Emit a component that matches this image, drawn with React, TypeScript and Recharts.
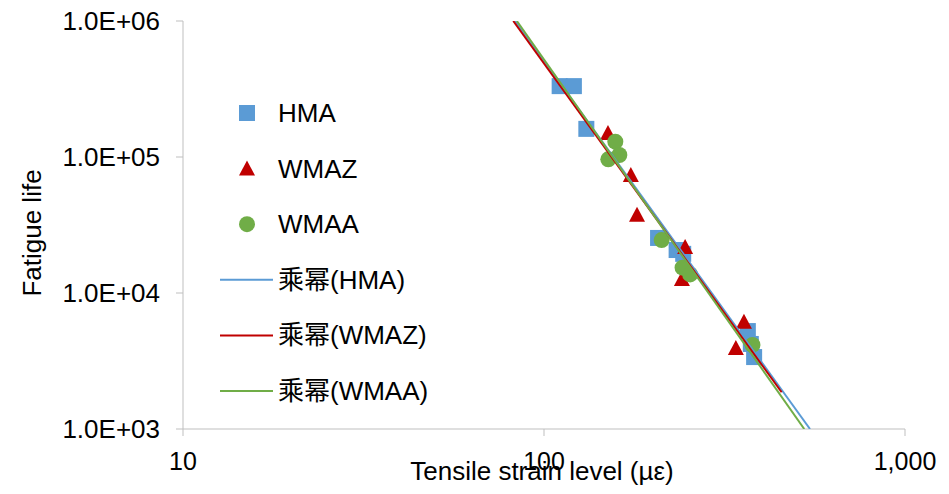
import React from "react"
import { ScatterChart, Scatter, XAxis, YAxis, Legend } from "recharts"

const font = '"Liberation Sans", Arial, "Noto Sans CJK SC", sans-serif'

const blue = "#5B9BD5"
const red = "#C00000"
const green = "#70AD47"
const axisGray = "#BFBFBF"

// measured specimens: tensile strain (µε) vs. cycles to failure
const hmaStrain = [110.5, 121, 131, 207, 233, 243, 367, 374, 382]
const hmaLife = [332000, 332000, 161000, 25400, 20700, 19400, 5250, 4220, 3380]

const wmazStrain = [150.4, 174, 181, 246, 241, 358, 340]
const wmazLife = [150000, 73700, 37600, 21800, 12700, 6150, 3940]

const wmaaStrain = [157.6, 161.7, 150.7, 211.8, 242, 254, 378]
const wmaaLife = [129600, 103400, 96200, 24500, 15350, 13700, 4150]

// power-law trend lines, start and end points
const hmaTrendStrain = [83.1, 545.6]
const hmaTrendLife = [1000000, 1000]
const wmazTrendStrain = [82.2, 455.3]
const wmazTrendLife = [1000000, 1862]
const wmaaTrendStrain = [84.1, 526]
const wmaaTrendLife = [1000000, 1000]

const seriesNames = ["HMA", "WMAZ", "WMAA"]
const trendPrefix = "乘幂"

const xTicks = [10, 100, 1000]
const yTicks = [1000, 10000, 100000, 1000000]

const toPoints = (xs: number[], ys: number[]) => xs.map((x, i) => ({ x, y: ys[i] }))

const SquareMark = ({ cx, cy, fill }: any) => <rect x={cx - 8} y={cy - 8} width={16} height={16} fill={fill} />
const TriangleMark = ({ cx, cy, fill }: any) => (
  <polygon points={`${cx},${cy - 8} ${cx - 8},${cy + 7} ${cx + 8},${cy + 7}`} fill={fill} />
)
const CircleMark = ({ cx, cy, fill }: any) => <circle cx={cx} cy={cy} r={8} fill={fill} />
const NoMark = () => <g />

const yTickFormatter = (v: number) => `1.0E+${String(Math.round(Math.log10(v))).padStart(2, "0")}`
const xTickFormatter = (v: number) => v.toLocaleString("en-US")

const YTitle = ({ viewBox }: any) => {
  const cx = viewBox.x + 32
  const cy = viewBox.y + viewBox.height / 2 + 8
  return (
    <text
      x={cx}
      y={cy}
      transform={`rotate(-90, ${cx}, ${cy})`}
      textAnchor="middle"
      dominantBaseline="central"
      fontSize={26}
      fontFamily={font}
      fill="#000"
    >
      Fatigue life
    </text>
  )
}

const XTitle = ({ viewBox }: any) => (
  <text
    x={viewBox.x + viewBox.width / 2 - 2}
    y={viewBox.y + 51}
    textAnchor="middle"
    fontSize={26}
    fontFamily={font}
    fill="#000"
  >
    Tensile strain level (µε)
  </text>
)

const colors = [blue, red, green]

const renderLegend = () => {
  const rowGap = 55.6
  return (
    <svg width={240} height={330} style={{ overflow: "visible" }}>
      {seriesNames.map((name, i) => {
        const y = 28 + i * rowGap
        const c = colors[i]
        let icon
        if (i === 0) icon = <SquareMark cx={37} cy={y} fill={c} />
        else if (i === 1) icon = <TriangleMark cx={37} cy={y} fill={c} />
        else icon = <CircleMark cx={37} cy={y} fill={c} />
        return (
          <g key={name}>
            {icon}
            <text x={68} y={y} dominantBaseline="central" fontSize={26} fontFamily={font} fill="#000">
              {name}
            </text>
          </g>
        )
      })}
      {seriesNames.map((name, i) => {
        const y = 28 + (i + 3) * rowGap
        return (
          <g key={`t-${name}`}>
            <line x1={10} x2={63} y1={y} y2={y} stroke={colors[i]} strokeWidth={2} />
            <text x={68} y={y} dominantBaseline="central" fontSize={26} fontFamily={font} fill="#000">
              {`${trendPrefix}(${name})`}
            </text>
          </g>
        )
      })}
    </svg>
  )
}

export default function App() {
  return (
    <div style={{ position: "absolute", left: 0, top: 0, background: "#fff" }}>
      <ScatterChart width={949} height={494} margin={{ top: 21, right: 44, bottom: 0, left: 0 }}>
        <XAxis
          type="number"
          dataKey="x"
          scale="log"
          domain={[10, 1000]}
          ticks={xTicks}
          allowDataOverflow
          height={65}
          stroke={axisGray}
          tickSize={7}
          tickMargin={16}
          tick={{ fill: "#000", fontSize: 25, fontFamily: font }}
          tickFormatter={xTickFormatter}
          label={<XTitle />}
        />
        <YAxis
          type="number"
          dataKey="y"
          scale="log"
          domain={[1000, 1000000]}
          ticks={yTicks}
          allowDataOverflow
          width={183}
          stroke={axisGray}
          tickSize={7}
          tickMargin={16}
          tick={{ fill: "#000", fontSize: 26, fontFamily: font }}
          tickFormatter={yTickFormatter}
          label={<YTitle />}
        />
        {/* centered/middle keeps the legend out of the plot offset; placed by wrapperStyle */}
        <Legend
          layout="vertical"
          align="center"
          verticalAlign="middle"
          content={renderLegend}
          wrapperStyle={{ left: 210, top: 85, width: 240, height: 330 }}
        />
        <Scatter name="HMA" data={toPoints(hmaStrain, hmaLife)} fill={blue} shape={SquareMark} isAnimationActive={false} />
        <Scatter name="WMAZ" data={toPoints(wmazStrain, wmazLife)} fill={red} shape={TriangleMark} isAnimationActive={false} />
        <Scatter name="WMAA" data={toPoints(wmaaStrain, wmaaLife)} fill={green} shape={CircleMark} isAnimationActive={false} />
        <Scatter
          name="trend HMA"
          data={toPoints(hmaTrendStrain, hmaTrendLife)}
          fill={blue}
          line={{ stroke: blue, strokeWidth: 2 }}
          shape={NoMark}
          legendType="none"
          isAnimationActive={false}
        />
        <Scatter
          name="trend WMAZ"
          data={toPoints(wmazTrendStrain, wmazTrendLife)}
          fill={red}
          line={{ stroke: red, strokeWidth: 2 }}
          shape={NoMark}
          legendType="none"
          isAnimationActive={false}
        />
        <Scatter
          name="trend WMAA"
          data={toPoints(wmaaTrendStrain, wmaaTrendLife)}
          fill={green}
          line={{ stroke: green, strokeWidth: 2 }}
          shape={NoMark}
          legendType="none"
          isAnimationActive={false}
        />
      </ScatterChart>
    </div>
  )
}
